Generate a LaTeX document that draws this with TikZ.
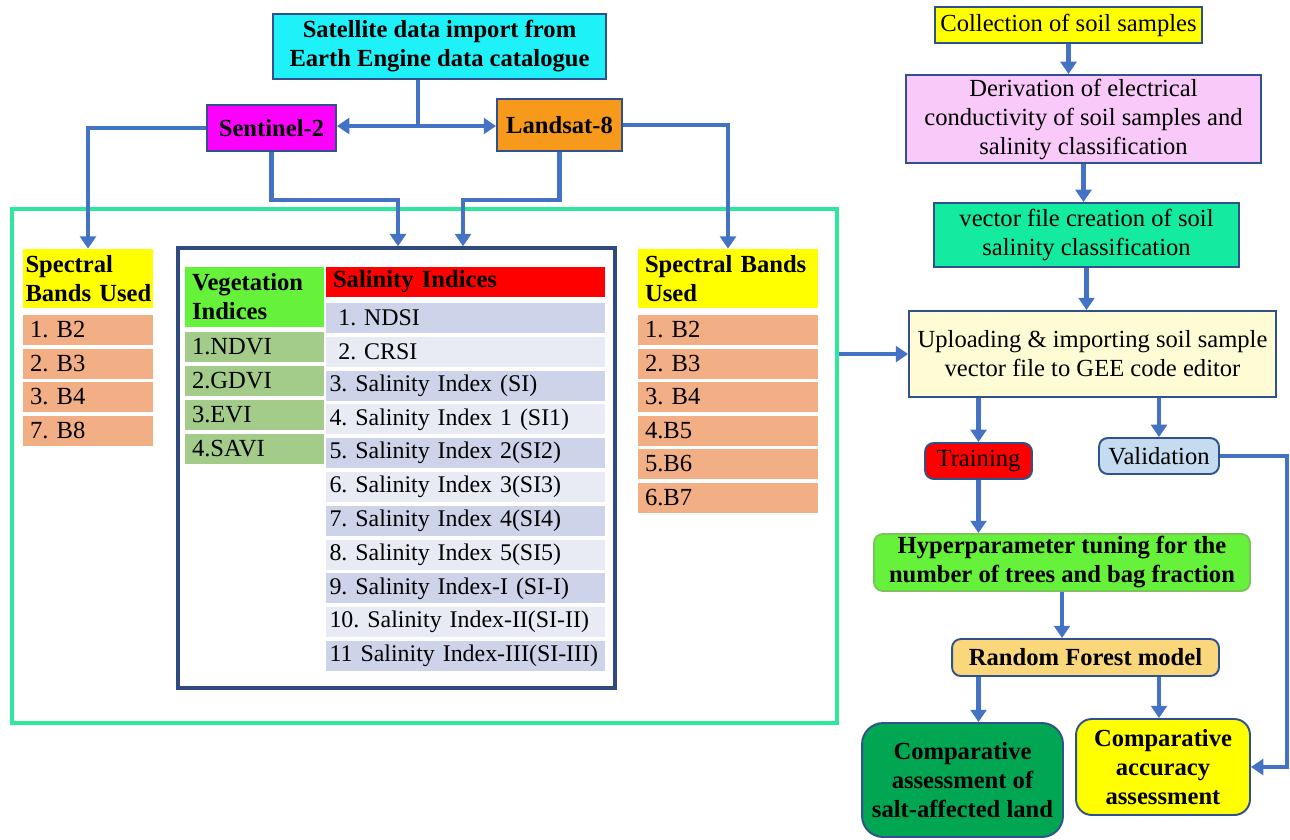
\documentclass[tikz,border=0pt]{standalone}
\usepackage{fontspec}
\setmainfont{Liberation Serif}
\usetikzlibrary{arrows.meta}

\definecolor{arrowblue}{HTML}{4472C4}
\definecolor{edgeblue}{HTML}{2F528F}
\definecolor{navybox}{HTML}{2E4A7E}
\definecolor{framegreen}{HTML}{2EE89E}
\definecolor{satcyan}{HTML}{1EF2F8}
\definecolor{senmag}{HTML}{FF00FF}
\definecolor{lanorange}{HTML}{F79A1C}
\definecolor{bandyellow}{HTML}{FFFF00}
\definecolor{bandpeach}{HTML}{F2AE84}
\definecolor{veghead}{HTML}{66F23A}
\definecolor{vegrow}{HTML}{A3CC8A}
\definecolor{salred}{HTML}{FF0000}
\definecolor{salrowA}{HTML}{CDD3E8}
\definecolor{salrowB}{HTML}{E8EAF4}
\definecolor{derivpink}{HTML}{F9C9F9}
\definecolor{vecgreen}{HTML}{14EBA0}
\definecolor{uplcream}{HTML}{FFFBD4}
\definecolor{validblue}{HTML}{C5DBF0}
\definecolor{hypgreen}{HTML}{66F23A}
\definecolor{hypedge}{HTML}{7CC45A}
\definecolor{rforange}{HTML}{FBD77C}
\definecolor{cassgreen}{HTML}{00A651}

\newcommand\boxfont{\fontsize{14}{16.5}\selectfont}
\newcommand\rowfont{\fontsize{13.6}{16}\selectfont}

\begin{document}
\frenchspacing
\begin{tikzpicture}[x=0.02cm, y=-0.02cm, font=\boxfont,
    box/.style={draw=edgeblue, line width=1.1pt, align=center, inner sep=0pt},
    rbox/.style={box, rounded corners=5pt},
    cell/.style={fill=#1, minimum height=0.6cm, inner xsep=4pt, inner ysep=0pt, align=left},
    link/.style={arrowblue, line width=2.4pt},
    arr/.style={link, -{Triangle[width=9pt,length=7pt]}}]
    \useasboundingbox (0,0) rectangle (1290,839);

    % outer frame and index box
    \node[draw=framegreen, line width=2.4pt, minimum width=16.5cm, minimum height=10.28cm, inner sep=0pt] (frame) at (424.5,466) {};
    \node[draw=navybox, line width=2pt, minimum width=8.74cm, minimum height=8.8cm, inner sep=0pt] (idx) at (396.5,468) {};

    % satellite data
    \node[box, fill=satcyan, minimum width=6.66cm, minimum height=1.3cm, font=\boxfont\bfseries] (sat) at (439.5,46.5) {Satellite data import from\\Earth Engine data catalogue};
    \node[box, fill=senmag, minimum width=2.58cm, minimum height=0.92cm, font=\boxfont\bfseries] (sen) at (271.5,128) {Sentinel-2};
    \node[box, fill=lanorange, minimum width=2.5cm, minimum height=1.04cm, font=\boxfont\bfseries] (lan) at (559.5,125) {Landsat-8};

    % bands of Sentinel-2
    \node[cell=bandyellow, text width=2.5cm, inner xsep=1.5pt, minimum height=1.18cm, font=\boxfont\bfseries] (lhead) at (88,278.5) {Spectral\\\mbox{Bands Used}};
    \foreach \t [count=\i from 0] in {1. B2, 2. B3, 3. B4, 7. B8}
        \node[cell=bandpeach, text width=2.32cm] (lb\i) at (88,{330+33.5*\i}) {\t};

    % vegetation indices
    \node[cell=veghead, text width=2.5cm, minimum height=1.2cm, font=\boxfont\bfseries] (vhead) at (254.5,297) {Vegetation\\Indices};
    \foreach \t [count=\i from 0] in {1.NDVI, 2.GDVI, 3.EVI, 4.SAVI}
        \node[cell=vegrow, text width=2.5cm] (vr\i) at (254.5,{347+34*\i}) {\t};

    % salinity indices
    \node[cell=salred, text width=5.3cm, font=\boxfont\bfseries] (shead) at (465.5,282) {Salinity Indices};
    \foreach \t [count=\i from 0] in {\hspace*{5pt}1. NDSI, \hspace*{5pt}2. CRSI, 3. Salinity Index (SI), 4. Salinity Index 1 (SI1),
        5. Salinity Index 2(SI2), 6. Salinity Index 3(SI3), 7. Salinity Index 4(SI4), 8. Salinity Index 5(SI5),
        9. Salinity Index-I (SI-I), 10. Salinity Index-II(SI-II), 11 Salinity Index-III(SI-III)} {
        \ifodd\i \def\rowc{salrowB}\else \def\rowc{salrowA}\fi
        \node[cell=\rowc, text width=5.44cm, inner xsep=2pt, font=\rowfont] (sr\i) at (465.5,{318+33.8*\i}) {\mbox{\t}};
    }

    % bands of Landsat-8
    \node[cell=bandyellow, text width=3.32cm, minimum height=1.18cm, font=\boxfont\bfseries] (rhead) at (728,278.5) {Spectral Bands\\Used};
    \foreach \t [count=\i from 0] in {1. B2, 2. B3, 3. B4, 4.B5, 5.B6, 6.B7}
        \node[cell=bandpeach, text width=3.32cm] (rb\i) at (728,{330+33.5*\i}) {\t};

    % soil samples and model
    \node[box, fill=bandyellow, minimum width=5.34cm, minimum height=0.72cm] (coll) at (1068.5,25) {Collection of soil samples};
    \node[box, fill=derivpink, minimum width=7.1cm, minimum height=1.76cm] (deriv) at (1083.5,119) {Derivation of electrical\\conductivity of soil samples and\\salinity classification};
    \node[box, fill=vecgreen, minimum width=6.1cm, minimum height=1.28cm] (vec) at (1086.5,235) {vector file creation of soil\\salinity classification};
    \node[box, fill=uplcream, minimum width=7.34cm, minimum height=1.72cm] (upl) at (1092.5,354) {Uploading \& importing soil sample\\vector file to GEE code editor};
    \node[rbox, fill=salred, minimum width=2.14cm, minimum height=0.72cm] (train) at (978.5,461) {Training};
    \node[rbox, fill=validblue, minimum width=2.4cm, minimum height=0.72cm] (valid) at (1159,456) {Validation};
    \node[rbox, draw=hypedge, fill=hypgreen, minimum width=7.52cm, minimum height=1.14cm, font=\boxfont\bfseries] (hyp) at (1062,562.5) {Hyperparameter tuning for the\\number of trees and bag fraction};
    \node[rbox, fill=rforange, minimum width=5.34cm, minimum height=0.74cm, font=\boxfont\bfseries] (rf) at (1085.5,657.5) {Random Forest model};
    \node[box, rounded corners=12pt, fill=cassgreen, minimum width=4.02cm, minimum height=2.28cm, font=\boxfont\bfseries] (cass) at (962.5,780) {Comparative\\assessment of\\salt-affected land};
    \node[box, rounded corners=9pt, fill=bandyellow, minimum width=3.48cm, minimum height=1.92cm, font=\boxfont\bfseries] (cacc) at (1163,767) {Comparative\\accuracy\\assessment};

    % connectors, left part
    \coordinate (split) at (418,126);
    \coordinate (sdrop) at (398,200);
    \coordinate (ldrop) at (463,200);
    \draw[link] (sat.south -| split) -- (split);
    \draw[arr] (split) -- (split -| sen.east);
    \draw[arr] (split) -- (split -| lan.west);
    \draw[arr] (sen.west) -| (lhead.north);
    \draw[arr] (sen.south) |- (sdrop) -- (sdrop |- idx.north);
    \draw[arr] (lan.south) |- (ldrop) -- (ldrop |- idx.north);
    \draw[arr] (lan.east) -| (rhead.north);
    \draw[arr] (frame.east |- upl.west) -- (upl.west);

    % connectors, right part
    \coordinate (vturn) at (1287,456);
    \draw[arr] (coll.south) -- (coll.south |- deriv.north);
    \draw[arr] (deriv.south) -- (deriv.south |- vec.north);
    \draw[arr] (vec.south) -- (vec.south |- upl.north);
    \draw[arr] (upl.south -| train) -- (train.north);
    \draw[arr] (upl.south -| valid) -- (valid.north);
    \draw[arr] (train.south) -- (train.south |- hyp.north);
    \draw[arr] (hyp.south) -- (hyp.south |- rf.north);
    \draw[arr] (rf.south -| train) -- (train |- cass.north);
    \draw[arr] (rf.south -| valid) -- (valid |- cacc.north);
    \draw[arr] (valid.east) -- (vturn) |- (cacc.east);
\end{tikzpicture}
\end{document}
